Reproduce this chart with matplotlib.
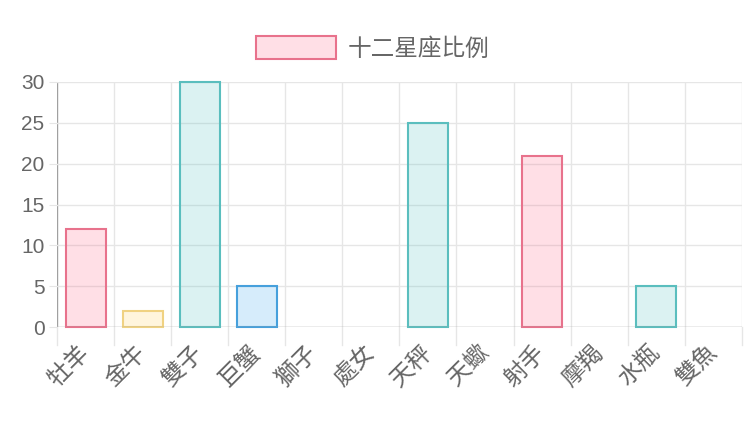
import matplotlib.pyplot as plt
import matplotlib.transforms as mtransforms
from matplotlib.patches import Patch

plt.rcParams['font.family'] = ['Noto Sans CJK TC', 'DejaVu Sans']

# data
signs = ['牡羊', '金牛', '雙子', '巨蟹', '獅子', '處女', '天秤', '天蠍', '射手', '摩羯', '水瓶', '雙魚']
counts = [12, 2, 30, 5, 0, 0, 25, 0, 21, 0, 5, 0]
label = '十二星座比例'

# colour per bar (fill, border)
pink = ((255/255, 99/255, 132/255, 0.2), (232/255, 114/255, 140/255))
yellow = ((255/255, 206/255, 86/255, 0.2), (240/255, 210/255, 130/255))
teal = ((75/255, 192/255, 192/255, 0.2), (90/255, 190/255, 190/255))
blue = ((54/255, 162/255, 235/255, 0.2), (70/255, 160/255, 220/255))
bar_styles = [pink, yellow, teal, blue, teal, teal, teal, teal, pink, teal, teal, teal]

grey_text = '#666666'
grid_col = '#e6e6e6'
axis_col = '#a0a0a0'

fig = plt.figure(figsize=(7.5, 4.42), dpi=100)
ax = fig.add_axes([0.076, 0.26, 0.913, 0.5545])

x = range(len(signs))
for i, v in enumerate(counts):
    fill, edge = bar_styles[i]
    if v > 0:
        ax.bar(i, v, width=0.7, color=fill, edgecolor=edge, linewidth=1.5,
               zorder=3, clip_on=False)

ax.set_xlim(-0.5, len(signs) - 0.5)
ax.set_ylim(0, 30)
ax.set_yticks(range(0, 31, 5))

# grid lines between categories (offset grid like Chart.js)
for b in range(len(signs) + 1):
    xb = b - 0.5
    ax.axvline(xb, color=grid_col if b else axis_col, lw=1, zorder=1)
    ax.plot([xb, xb], [0, -0.075], transform=ax.get_xaxis_transform(),
            color=grid_col, lw=1, clip_on=False)
for yv in range(5, 31, 5):
    ax.axhline(yv, color=grid_col, lw=1, zorder=1)
ax.axhline(0, color=axis_col, lw=1, zorder=4)

ax.set_xticks(list(x))
ax.set_xticklabels(signs, rotation=45, ha='right', rotation_mode='anchor',
                   fontsize=17, color=grey_text)
ax.tick_params(axis='x', length=0, pad=10)
shift = mtransforms.ScaledTranslation(-8/100, 0, fig.dpi_scale_trans)
for t in ax.get_xticklabels():
    t.set_transform(t.get_transform() + shift)
ax.tick_params(axis='y', length=6, color=grid_col, labelsize=15,
               labelcolor=grey_text, pad=3)
for t in ax.get_yticklabels():
    t.set_fontfamily('Liberation Sans')
for s in ax.spines.values():
    s.set_visible(False)

handle = Patch(facecolor=pink[0], edgecolor=pink[1], linewidth=1.5)
fig.legend([handle], [label], loc='center', bbox_to_anchor=(0.497, 0.89),
           frameon=False, fontsize=17, handlelength=3.4, handleheight=1.1,
           handletextpad=0.5, labelcolor=grey_text)

fig.savefig('out.png', dpi=100)
